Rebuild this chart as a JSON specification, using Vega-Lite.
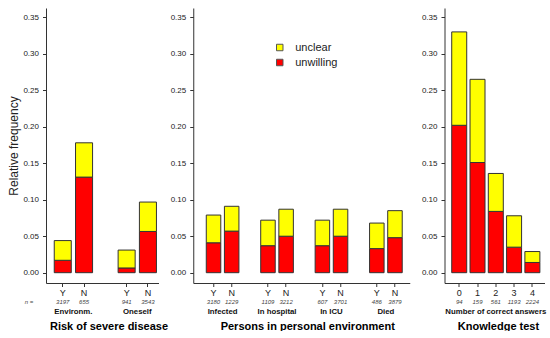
{
  "$schema": "https://vega.github.io/schema/vega-lite/v6.json",
  "padding": {"left": 7, "top": 8, "right": 0, "bottom": 0},
  "background": "white",
  "bounds": "flush",
  "spacing": 34.25,
  "config": {
    "font": "Liberation Sans",
    "view": {"stroke": null},
    "axis": {"grid": false, "domainColor": "#333", "tickColor": "#333", "labelColor": "#222", "titleColor": "#111", "domainWidth": 1, "tickWidth": 1},
    "axisY": {"values": [0, 0.05, 0.1, 0.15, 0.2, 0.25, 0.3, 0.35], "format": ".2f", "tickSize": 3.5, "labelPadding": 4, "labelFontSize": 8, "labelOverlap": false, "tickCount": 8}
  },
  "resolve": {"scale": {"color": "independent"}, "legend": {"color": "independent"}},
  "datasets": {
    "p1bars": [
      {"bar": "Env-Y", "type": "unwilling", "value": 0.017},
      {"bar": "Env-Y", "type": "unclear", "value": 0.027},
      {"bar": "Env-N", "type": "unwilling", "value": 0.131},
      {"bar": "Env-N", "type": "unclear", "value": 0.047},
      {"bar": "One-Y", "type": "unwilling", "value": 0.0065},
      {"bar": "One-Y", "type": "unclear", "value": 0.0245},
      {"bar": "One-N", "type": "unwilling", "value": 0.0565},
      {"bar": "One-N", "type": "unclear", "value": 0.0403}
    ],
    "p1n": [
      {"bar": "Env-Y", "n": "3197"},
      {"bar": "Env-N", "n": "655"},
      {"bar": "One-Y", "n": "941"},
      {"bar": "One-N", "n": "3543"}
    ],
    "p1groups": [
      {"bar": "Env-Y", "label": "Environm."},
      {"bar": "One-Y", "label": "Oneself"}
    ],
    "p2bars": [
      {"bar": "Inf-Y", "type": "unwilling", "value": 0.041},
      {"bar": "Inf-Y", "type": "unclear", "value": 0.038},
      {"bar": "Inf-N", "type": "unwilling", "value": 0.057},
      {"bar": "Inf-N", "type": "unclear", "value": 0.034},
      {"bar": "Hos-Y", "type": "unwilling", "value": 0.037},
      {"bar": "Hos-Y", "type": "unclear", "value": 0.035},
      {"bar": "Hos-N", "type": "unwilling", "value": 0.050},
      {"bar": "Hos-N", "type": "unclear", "value": 0.037},
      {"bar": "ICU-Y", "type": "unwilling", "value": 0.037},
      {"bar": "ICU-Y", "type": "unclear", "value": 0.035},
      {"bar": "ICU-N", "type": "unwilling", "value": 0.050},
      {"bar": "ICU-N", "type": "unclear", "value": 0.037},
      {"bar": "Die-Y", "type": "unwilling", "value": 0.033},
      {"bar": "Die-Y", "type": "unclear", "value": 0.035},
      {"bar": "Die-N", "type": "unwilling", "value": 0.048},
      {"bar": "Die-N", "type": "unclear", "value": 0.037}
    ],
    "p2n": [
      {"bar": "Inf-Y", "n": "3180"},
      {"bar": "Inf-N", "n": "1229"},
      {"bar": "Hos-Y", "n": "1109"},
      {"bar": "Hos-N", "n": "3212"},
      {"bar": "ICU-Y", "n": "607"},
      {"bar": "ICU-N", "n": "3701"},
      {"bar": "Die-Y", "n": "486"},
      {"bar": "Die-N", "n": "3879"}
    ],
    "p2groups": [
      {"bar": "Inf-Y", "label": "Infected"},
      {"bar": "Hos-Y", "label": "In hospital"},
      {"bar": "ICU-Y", "label": "In ICU"},
      {"bar": "Die-Y", "label": "Died"}
    ],
    "p3bars": [
      {"bar": "0", "type": "unwilling", "value": 0.202},
      {"bar": "0", "type": "unclear", "value": 0.128},
      {"bar": "1", "type": "unwilling", "value": 0.151},
      {"bar": "1", "type": "unclear", "value": 0.114},
      {"bar": "2", "type": "unwilling", "value": 0.084},
      {"bar": "2", "type": "unclear", "value": 0.052},
      {"bar": "3", "type": "unwilling", "value": 0.035},
      {"bar": "3", "type": "unclear", "value": 0.043},
      {"bar": "4", "type": "unwilling", "value": 0.014},
      {"bar": "4", "type": "unclear", "value": 0.015}
    ],
    "p3n": [
      {"bar": "0", "n": "94"},
      {"bar": "1", "n": "159"},
      {"bar": "2", "n": "561"},
      {"bar": "3", "n": "1193"},
      {"bar": "4", "n": "2224"}
    ],
    "p3groups": [
      {"bar": "2", "label": "Number of correct answers"}
    ]
  },
  "hconcat": [
    {
      "width": 112.5,
      "height": 275,
      "encoding": {
        "x": {
          "field": "bar", "type": "nominal", "title": "Risk of severe disease",
          "scale": {"domain": ["Env-Y", "Env-N", "gap", "One-Y", "One-N"], "paddingInner": 0.2, "paddingOuter": 0.242, "align": 0.8},
          "axis": {"values": ["Env-Y", "Env-N", "One-Y", "One-N"], "labelExpr": "slice(datum.label, -1)", "labelAngle": 0, "tickSize": 3.5, "labelPadding": 1.5, "labelFontSize": 9, "labelColor": "#222", "titleFontSize": 11, "titleFontWeight": "bold", "titleColor": "#000", "titleX": 62.5, "titleY": 43, "titleBaseline": "middle", "titleAlign": "center"}
        }
      },
      "layer": [
        {
          "data": {"name": "p1bars"},
          "mark": {"type": "bar", "stroke": "#333", "strokeWidth": 1},
          "encoding": {
            "y": {"field": "value", "type": "quantitative", "title": "Relative frequency",
              "scale": {"domain": [-0.01412, 0.36274], "nice": false, "zero": false},
              "axis": {"values": [0, 0.05, 0.1, 0.15, 0.2, 0.25, 0.3, 0.35], "format": ".2f", "labelOverlap": false, "titleFontSize": 12, "titleFontWeight": "normal", "titlePadding": 2.5, "titleColor": "#222"}},
            "color": {"field": "type", "type": "nominal", "scale": {"domain": ["unclear", "unwilling"], "range": ["#ffff00", "#ff0000"]}, "legend": null},
            "order": {"field": "type", "sort": "descending"}
          }
        },
        {
          "data": {"name": "p1n"},
          "mark": {"type": "text", "fontSize": 6, "fontStyle": "italic", "color": "#444"},
          "encoding": {"y": {"datum": -0.0397, "title": "Relative frequency"}, "text": {"field": "n"}}
        },
        {
          "data": {"name": "p1groups"},
          "mark": {"type": "text", "fontSize": 7.8, "fontWeight": "bold", "color": "#111"},
          "encoding": {
            "x": {"field": "bar", "type": "nominal", "bandPosition": 1.125, "title": "Risk of severe disease"},
            "y": {"datum": -0.054, "title": "Relative frequency"},
            "text": {"field": "label"}
          }
        },
        {
          "data": {"values": [{"bar": "Env-Y", "t": "n ="}]},
          "mark": {"type": "text", "fontSize": 6, "fontStyle": "italic", "color": "#444"},
          "encoding": {
            "x": {"field": "bar", "type": "nominal", "bandPosition": -1.48, "title": "Risk of severe disease"},
            "y": {"datum": -0.0397, "title": "Relative frequency"},
            "text": {"field": "t"}
          }
        }
      ]
    },
    {
      "width": 216.5,
      "height": 275,
      "encoding": {
        "x": {
          "field": "bar", "type": "nominal", "title": "Persons in personal environment",
          "scale": {"domain": ["Inf-Y", "Inf-N", "g1", "Hos-Y", "Hos-N", "g2", "ICU-Y", "ICU-N", "g3", "Die-Y", "Die-N"], "paddingInner": 0.2, "paddingOuter": 0.566, "align": 0.634},
          "axis": {"values": ["Inf-Y", "Inf-N", "Hos-Y", "Hos-N", "ICU-Y", "ICU-N", "Die-Y", "Die-N"], "labelExpr": "slice(datum.label, -1)", "labelAngle": 0, "tickSize": 3.5, "labelPadding": 1.5, "labelFontSize": 9, "labelColor": "#222", "titleFontSize": 11, "titleFontWeight": "bold", "titleColor": "#000", "titleX": 114, "titleY": 43, "titleBaseline": "middle", "titleAlign": "center"}
        }
      },
      "layer": [
        {
          "data": {"name": "p2bars"},
          "mark": {"type": "bar", "stroke": "#333", "strokeWidth": 1},
          "encoding": {
            "y": {"field": "value", "type": "quantitative", "title": null,
              "scale": {"domain": [-0.01412, 0.36274], "nice": false, "zero": false},
              "axis": {"values": [0, 0.05, 0.1, 0.15, 0.2, 0.25, 0.3, 0.35], "format": ".2f", "labelOverlap": false, "title": null}},
            "color": {"field": "type", "type": "nominal", "scale": {"domain": ["unclear", "unwilling"], "range": ["#ffff00", "#ff0000"]},
              "legend": {"orient": "none", "legendX": 81, "legendY": 34, "title": null, "symbolType": "square", "symbolSize": 42, "symbolStrokeColor": "#555", "symbolStrokeWidth": 1, "labelFontSize": 11, "labelOffset": 10, "rowPadding": 3, "labelColor": "#222"}},
            "order": {"field": "type", "sort": "descending"}
          }
        },
        {
          "data": {"name": "p2n"},
          "mark": {"type": "text", "fontSize": 6, "fontStyle": "italic", "color": "#444"},
          "encoding": {"y": {"datum": -0.0397, "title": null}, "text": {"field": "n"}}
        },
        {
          "data": {"name": "p2groups"},
          "mark": {"type": "text", "fontSize": 7.8, "fontWeight": "bold", "color": "#111"},
          "encoding": {
            "x": {"field": "bar", "type": "nominal", "bandPosition": 1.125, "title": "Persons in personal environment"},
            "y": {"datum": -0.054, "title": null},
            "text": {"field": "label"}
          }
        }
      ]
    },
    {
      "width": 100,
      "height": 275,
      "encoding": {
        "x": {
          "field": "bar", "type": "nominal", "title": "Knowledge test",
          "scale": {"domain": ["0", "1", "2", "3", "4"], "paddingInner": 0.18, "paddingOuter": 0.324, "align": 0.61},
          "axis": {"labelAngle": 0, "tickSize": 3.5, "labelPadding": 1.5, "labelFontSize": 9, "labelColor": "#222", "titleFontSize": 11, "titleFontWeight": "bold", "titleColor": "#000", "titleX": 53.5, "titleY": 43, "titleBaseline": "middle", "titleAlign": "center"}
        }
      },
      "layer": [
        {
          "data": {"name": "p3bars"},
          "mark": {"type": "bar", "stroke": "#333", "strokeWidth": 1},
          "encoding": {
            "y": {"field": "value", "type": "quantitative", "title": null,
              "scale": {"domain": [-0.01412, 0.36274], "nice": false, "zero": false},
              "axis": {"values": [0, 0.05, 0.1, 0.15, 0.2, 0.25, 0.3, 0.35], "format": ".2f", "labelOverlap": false, "title": null}},
            "color": {"field": "type", "type": "nominal", "scale": {"domain": ["unclear", "unwilling"], "range": ["#ffff00", "#ff0000"]}, "legend": null},
            "order": {"field": "type", "sort": "descending"}
          }
        },
        {
          "data": {"name": "p3n"},
          "mark": {"type": "text", "fontSize": 6, "fontStyle": "italic", "color": "#444"},
          "encoding": {"y": {"datum": -0.0397, "title": null}, "text": {"field": "n"}}
        },
        {
          "data": {"name": "p3groups"},
          "mark": {"type": "text", "fontSize": 7.8, "fontWeight": "bold", "color": "#111"},
          "encoding": {
            "y": {"datum": -0.054, "title": null},
            "text": {"field": "label"}
          }
        }
      ]
    }
  ]
}
